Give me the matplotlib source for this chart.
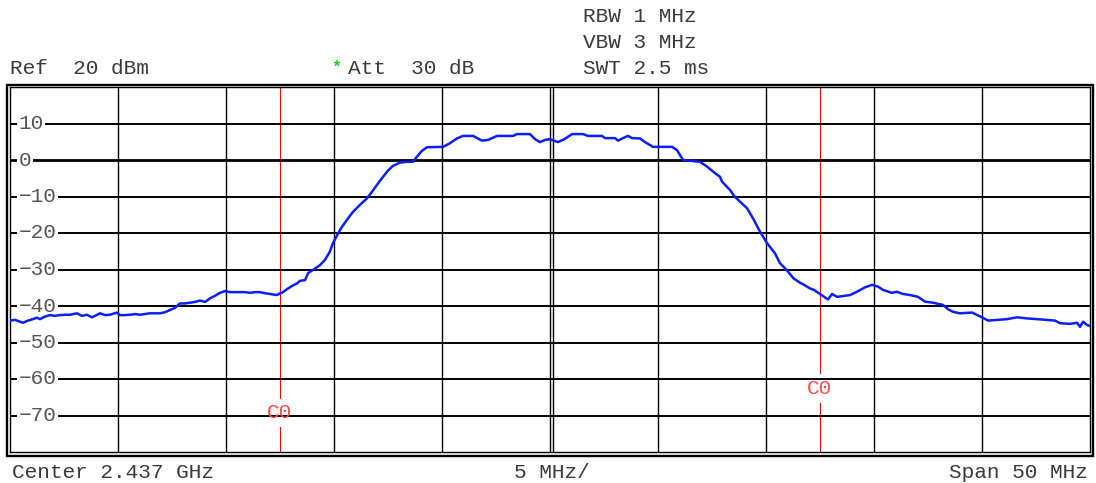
import matplotlib.pyplot as plt
from matplotlib.patches import Rectangle

# trace: offset from centre (MHz) and level (dBm)
freq_mhz = [-25.0, -24.77, -24.54, -24.40, -24.17, -23.94, -23.75, -23.61, -23.38, -23.15,
            -22.92, -22.69, -22.45, -22.22, -21.90, -21.67, -21.44, -21.20, -20.97, -20.83,
            -20.60, -20.37, -20.05, -19.91, -19.68, -19.44, -19.21, -18.98, -18.75, -18.52,
            -18.29, -18.06, -17.82, -17.59, -17.36, -17.13, -16.90, -16.67, -16.44, -16.20,
            -15.97, -15.74, -15.51, -15.28, -15.05, -14.81, -14.58, -14.35, -14.12, -13.89,
            -13.66, -13.43, -13.19, -12.96, -12.73, -12.64, -12.50, -12.41, -12.18, -11.94,
            -11.71, -11.57, -11.34, -11.20, -10.97, -10.65, -10.42, -10.19, -10.05, -9.81,
            -9.63, -9.35, -9.12, -8.80, -8.47, -8.24, -8.01, -7.73, -7.50, -7.27,
            -6.94, -6.62, -6.34, -6.16, -5.93, -5.69, -4.95, -4.63, -4.31, -4.03,
            -3.56, -3.15, -2.87, -2.45, -1.71, -1.53, -0.93, -0.69, -0.46, -0.23,
            0.0, 0.37, 0.69, 1.02, 1.53, 1.76, 2.41, 2.55, 3.01, 3.15,
            3.38, 3.61, 3.80, 4.17, 4.40, 4.77, 5.65, 5.88, 6.16, 6.94,
            7.27, 7.64, 7.87, 7.96, 8.33, 8.56, 9.12, 9.40, 9.72, 10.05,
            10.42, 10.65, 10.95, 11.27, 11.57, 11.76, 12.04, 12.22, 12.50, 12.87,
            13.06, 13.29, 13.52, 13.89, 14.21, 14.58, 14.91, 15.19, 15.42, 15.83,
            16.06, 16.34, 16.67, 17.04, 17.36, 17.73, 18.19, 18.43, 18.66, 18.98,
            19.54, 20.0, 20.28, 20.69, 21.16, 21.62, 22.08, 22.55, 23.38, 23.61,
            24.07, 24.40, 24.54, 24.68, 24.86, 25.0]
level_dbm = [-44.0, -43.8, -44.3, -44.6, -44.0, -43.6, -43.2, -43.6, -42.9, -42.5,
             -42.7, -42.5, -42.4, -42.4, -42.0, -42.7, -42.4, -43.1, -42.4, -42.0,
             -42.5, -42.4, -41.8, -42.5, -42.5, -42.4, -42.2, -42.4, -42.2, -42.0,
             -42.0, -42.0, -41.7, -41.1, -40.5, -39.3, -39.3, -39.1, -38.9, -38.5,
             -38.9, -37.9, -37.2, -36.4, -35.9, -36.2, -36.2, -36.2, -36.2, -36.4,
             -36.2, -36.2, -36.5, -36.7, -36.9, -37.0, -36.5, -36.4, -35.4, -34.5,
             -33.8, -33.1, -32.9, -31.0, -30.1, -28.8, -27.4, -25.1, -22.8, -20.1,
             -18.3, -16.0, -14.2, -12.3, -10.5, -8.7, -6.8, -4.6, -2.9, -1.6,
             -0.7, -0.5, -0.5, 0.9, 2.5, 3.5, 3.6, 4.6, 5.9, 6.6,
             6.6, 5.3, 5.5, 6.6, 6.6, 7.1, 7.1, 5.7, 4.9, 5.5,
             5.7, 4.9, 5.8, 7.1, 7.1, 6.6, 6.6, 6.0, 6.0, 5.3,
             6.0, 6.6, 6.0, 5.9, 4.9, 3.6, 3.6, 2.7, 0.0, -0.5,
             -1.8, -3.6, -4.6, -5.9, -8.2, -10.1, -13.2, -16.0, -19.6, -22.8,
             -25.6, -28.3, -30.1, -32.4, -33.6, -34.2, -35.2, -35.6, -36.7, -38.2,
             -36.7, -37.5, -37.3, -37.0, -36.1, -34.9, -34.2, -34.7, -35.6, -36.4,
             -36.1, -36.7, -37.0, -37.5, -38.8, -39.1, -39.7, -40.9, -41.6, -42.0,
             -41.8, -43.1, -44.0, -43.8, -43.6, -43.1, -43.4, -43.6, -44.0, -44.7,
             -44.9, -44.6, -45.7, -44.3, -45.2, -45.5]

level_ticks = [10, 0, -10, -20, -30, -40, -50, -60, -70]
freq_grid = [-20, -15, -10, -5, 0, 5, 10, 15, 20]
channel_edges = [-12.5, 12.5]
channel_label_y = [-69.3, -62.7]

mono = 'Liberation Mono'
fs = 15.2
txt = '#3a3a3a'

fig = plt.figure(figsize=(10.96, 4.83), dpi=100)
W, H = 1096, 483
ax = fig.add_axes([10 / W, 1 - 452 / H, 1080 / W, 365 / H])
ax.set_xlim(-25, 25)
ax.set_ylim(-80, 20)
ax.set_xticks([])
ax.set_yticks([])
for s in ax.spines.values():
    s.set_linewidth(1.0)
    s.set_color('black')

# channel lines (label background hides the red line only)
for x, ly in zip(channel_edges, channel_label_y):
    ax.axvline(x, color='#ff0000', lw=0.8, zorder=1)
    ax.text(x, ly, 'C0', family=mono, fontsize=fs, color='white',
            ha='center', va='center', zorder=1.5,
            bbox=dict(facecolor='white', edgecolor='none', pad=3.5))
    ax.text(x, ly, 'C0', family=mono, fontsize=fs, color='#ff4a4a',
            ha='center', va='center', zorder=3)

# grid
for f in freq_grid:
    ax.axvline(f, color='black', lw=1.0, zorder=2)
ax.axvline(0.16, color='black', lw=1.0, zorder=2)
for lv in level_ticks:
    ax.axhline(lv, color='black', lw=2.0 if lv == 0 else 1.4, zorder=2)
    lab = str(lv).replace('-', '\u2212')
    ax.text(-24.6, lv, lab, family=mono, fontsize=fs, color='#555555',
            ha='left', va='center', zorder=2.5,
            bbox=dict(facecolor='white', edgecolor='none', pad=1.0))

ax.plot(freq_mhz, level_dbm, color='#0a1eff', lw=1.8, zorder=4)

# outer frame
fig.add_artist(Rectangle((6.5 / W, 1 - 455.5 / H), 1086 / W, 370.5 / H,
                         transform=fig.transFigure, fill=False,
                         edgecolor='black', lw=1.7))

def ftext(x, y, s, size=fs, **kw):
    kw.setdefault('color', txt)
    fig.text(x / W, 1 - y / H, s, family=mono, fontsize=size, va='baseline', **kw)

ftext(583, 22, 'RBW 1 MHz')
ftext(583, 48, 'VBW 3 MHz')
ftext(583, 74, 'SWT 2.5 ms')
ftext(10, 74, 'Ref  20 dBm')
ftext(348, 74, 'Att  30 dB')
ftext(331, 72, '*', size=12, color='#22cc22', fontweight='bold')
ftext(12, 478, 'Center 2.437 GHz')
ftext(552, 478, '5 MHz/', ha='center')
ftext(1088, 478, 'Span 50 MHz', ha='right')

fig.savefig('out.png', dpi=100)
